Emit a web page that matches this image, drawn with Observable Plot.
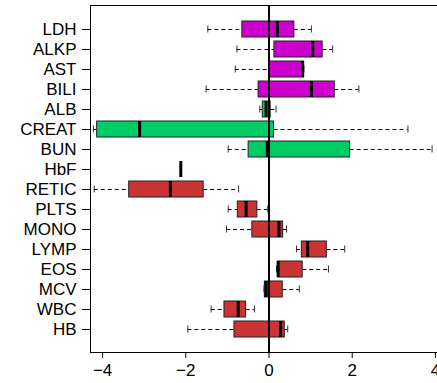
<!DOCTYPE html>
<html>
<head>
<meta charset="utf-8">
<script src="https://cdn.jsdelivr.net/npm/d3@7"></script>
<script src="https://cdn.jsdelivr.net/npm/@observablehq/plot@0.6"></script>
<style>
  html, body { margin: 0; padding: 0; background: white; }
</style>
</head>
<body>
<div id="chart"></div>
<script>
const categories = ["LDH","ALKP","AST","BILI","ALB","CREAT","BUN","HbF","RETIC","PLTS","MONO","LYMP","EOS","MCV","WBC","HB"];
const groups     = ["liver","liver","liver","liver","renal","renal","renal","blood","blood","blood","blood","blood","blood","blood","blood","blood"];
const whiskerLow  = [-1.47, -0.77, -0.81, -1.51, -0.22, -4.22, -0.98, null, -4.20, -0.98, -1.02, 0.66, 0.18, -0.12, -1.39, -1.95];
const q1          = [-0.64,  0.13,  0.00, -0.25, -0.15, -4.13, -0.49, null, -3.36, -0.75, -0.40, 0.79, 0.22, -0.10, -1.07, -0.83];
const medians     = [ 0.20,  1.05,  0.81,  1.02, -0.07, -3.11, -0.04, -2.12, -2.37, -0.55, 0.24, 0.93, 0.22, -0.07, -0.74, 0.28];
const q3          = [ 0.61,  1.29,  0.84,  1.58,  0.04,  0.12,  1.95, null, -1.57, -0.28, 0.34, 1.39, 0.81, 0.33, -0.55, 0.38];
const whiskerHigh = [ 1.02,  1.53,  0.84,  2.16,  0.17,  3.34,  3.92, null, -0.73, -0.03, 0.42, 1.82, 1.43, 0.73, -0.35, 0.45];
const xTicks = [-4, -2, 0, 2, 4];
const groupColors = {liver: "#CC00CC", renal: "#00CC66", blood: "#CC3333"};

const rows = categories.map((c, i) => ({
  cat: c, group: groups[i], wlo: whiskerLow[i], q1: q1[i], med: medians[i], q3: q3[i], whi: whiskerHigh[i]
}));
const boxed = rows.filter(d => d.q1 != null);

const chart = Plot.plot({
  width: 437,
  height: 383,
  marginLeft: 90,
  marginRight: 0,
  marginTop: 5,
  marginBottom: 31,
  style: {fontFamily: "'Liberation Sans', Arial, sans-serif", fontSize: "17px", color: "black", background: "white", overflow: "visible"},
  x: {domain: [-4.29, 4.05], ticks: xTicks, tickSize: 6, tickPadding: 5, label: null},
  y: {domain: categories, paddingInner: 0.2, paddingOuter: 0.7, tickSize: 8, tickPadding: 6, label: null},
  marks: [
    Plot.ruleY(boxed, {y: "cat", x1: "wlo", x2: "q1", stroke: "black", strokeWidth: 1, strokeDasharray: "4,3"}),
    Plot.ruleY(boxed, {y: "cat", x1: "q3", x2: "whi", stroke: "black", strokeWidth: 1, strokeDasharray: "4,3"}),
    Plot.tickX(boxed, {y: "cat", x: "wlo", stroke: "#333", strokeWidth: 1, insetTop: 4.5, insetBottom: 4.5}),
    Plot.tickX(boxed, {y: "cat", x: "whi", stroke: "#333", strokeWidth: 1, insetTop: 4.5, insetBottom: 4.5}),
    Plot.barX(boxed, {y: "cat", x1: "q1", x2: "q3", fill: d => groupColors[d.group], stroke: "#222", strokeWidth: 1}),
    Plot.ruleX([0], {stroke: "black", strokeWidth: 2}),
    Plot.tickX(rows, {y: "cat", x: "med", stroke: "black", strokeWidth: 3}),
    Plot.frame({anchor: "top"}),
    Plot.frame({anchor: "left"}),
    Plot.frame({anchor: "bottom"})
  ]
});
document.getElementById("chart").appendChild(chart);
</script>
</body>
</html>
